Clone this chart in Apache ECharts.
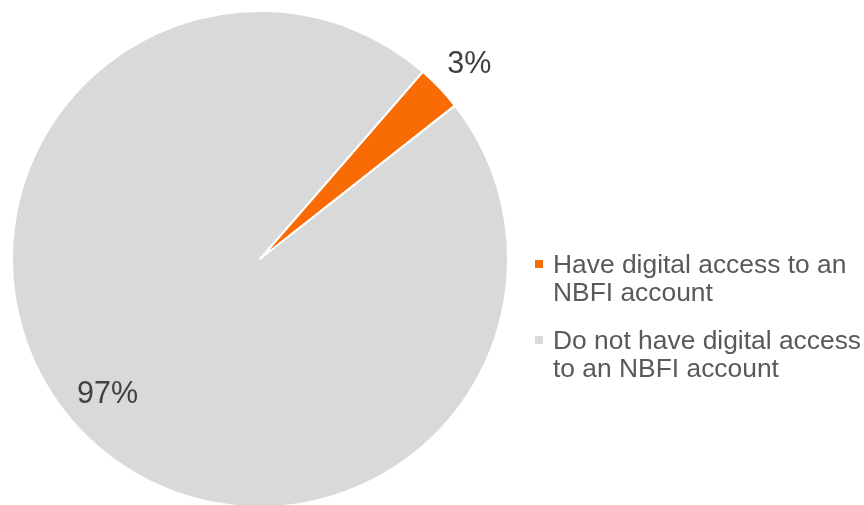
<!DOCTYPE html>
<html>
<head>
<meta charset="utf-8">
<style>
  html, body { margin: 0; padding: 0; background: #ffffff; }
  #chart { width: 864px; height: 505px; }
</style>
<script src="https://cdn.jsdelivr.net/npm/echarts@6/dist/echarts.min.js"></script>
</head>
<body>
<div id="chart"></div>
<script>
// Share of respondents by digital access to an NBFI account (percent)
const categories = [
  'Have digital access to an NBFI account',
  'Do not have digital access to an NBFI account'
];
const shares = [3, 97];
const legendLines = [
  'Have digital access to an\nNBFI account',
  'Do not have digital access\nto an NBFI account'
];
const sliceColors = ['#F86B05', '#D9D9D9'];

const FONT = '"Liberation Sans", Arial, Helvetica, sans-serif';

const chart = echarts.init(document.getElementById('chart'), null, { renderer: 'canvas' });

// Per-slice label placement: the small slice is labelled just outside the rim,
// the large one well inside its sector.
const labelPlacement = [
  { position: 'outside', length: 34, length2: 0, distance: -17 },
  { position: 'outside', length: -52, length2: 0, distance: -20 }
];

const pieData = categories.map((name, i) => ({
  name: name,
  value: shares[i],
  itemStyle: { color: sliceColors[i] },
  label: {
    position: labelPlacement[i].position,
    distanceToLabelLine: labelPlacement[i].distance
  },
  labelLine: {
    show: false,
    length: labelPlacement[i].length,
    length2: labelPlacement[i].length2
  }
}));

chart.setOption({
  backgroundColor: '#ffffff',
  animation: false,
  legend: {
    orient: 'vertical',
    left: 535,
    top: 252,
    padding: 0,
    itemGap: 20,
    itemWidth: 13,
    itemHeight: 56,
    // square marker aligned with the first text line
    icon: 'path://M0,8h8v8h-8z M0,0 M13,56',
    itemStyle: { borderWidth: 0 },
    data: categories,
    formatter: function (name) {
      return legendLines[categories.indexOf(name)];
    },
    textStyle: {
      fontFamily: FONT,
      fontSize: 26.4,
      lineHeight: 28,
      color: '#595959'
    }
  },
  series: [{
    type: 'pie',
    center: [260, 259],
    radius: 248,
    startAngle: 49,
    clockwise: true,
    avoidLabelOverlap: false,
    itemStyle: { borderColor: '#ffffff', borderWidth: 2 },
    emphasis: { disabled: true },
    label: {
      show: true,
      formatter: '{c}%',
      fontFamily: FONT,
      fontSize: 30.5,
      color: '#404040'
    },
    data: pieData
  }]
});
</script>
</body>
</html>
